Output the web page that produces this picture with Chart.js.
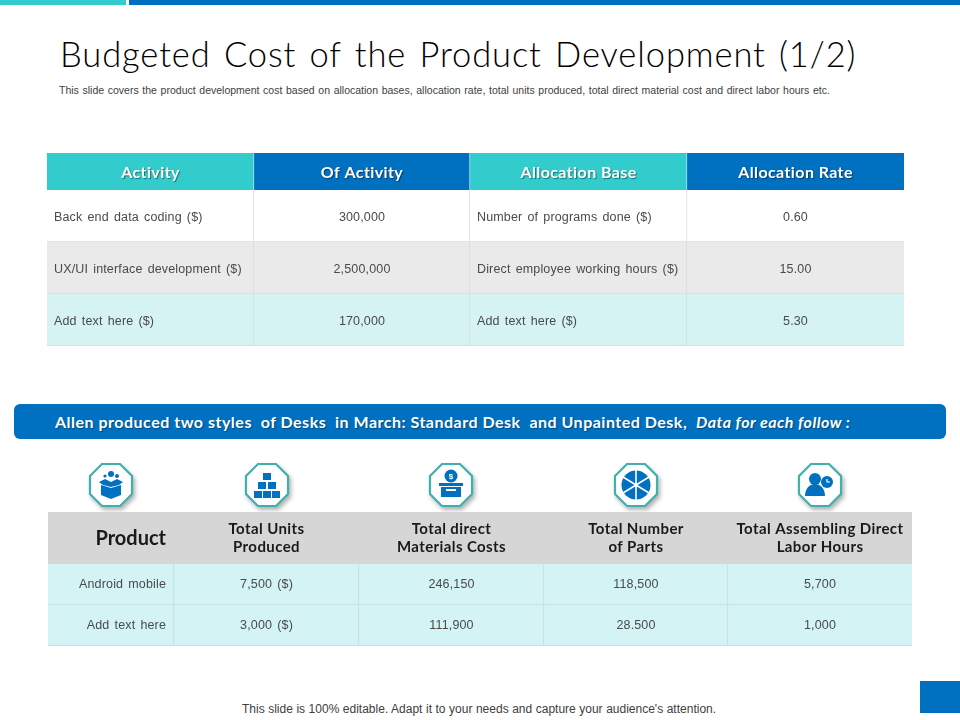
<!DOCTYPE html>
<html>
<head>
<meta charset="utf-8">
<title>Budgeted Cost of the Product Development (1/2)</title>
<script src="https://cdn.jsdelivr.net/npm/chart.js@4"></script>
<style>
  html, body { margin: 0; padding: 0; background: #fff; }
  #slide { position: relative; width: 960px; height: 720px; overflow: hidden; }
  #slide > * { position: absolute; }
  canvas { display: block; }
  .strip { top: 0; height: 5px; }
  #title { left: 60px; top: 33px; font: 300 34.5px Lato, sans-serif; letter-spacing: 0.9px; word-spacing: 3px; color: #000; white-space: pre; }
  #subtitle { left: 59px; top: 84px; font: 10.5px "Liberation Sans", sans-serif; color: #404040; white-space: pre; word-spacing: 0.75px; }
  #banner { left: 14px; top: 404px; width: 932px; height: 35px; border-radius: 6px; background: #0070c0; }
  #bannerText { left: 55px; top: 412px; font: 700 16px Lato, sans-serif; letter-spacing: 0.5px; color: #fff; white-space: pre; text-shadow: 1px 1px 1px rgba(0,0,0,.35); }
  #footer { left: 242px; top: 702px; font: 12px "Liberation Sans", sans-serif; word-spacing: 0.2px; color: #404040; white-space: pre; }
  #corner { left: 920px; top: 681px; width: 40px; height: 32px; background: #0070c0; }
  .icon { top: 462px; width: 46px; height: 46px; filter: drop-shadow(2px 3px 2px rgba(0,0,0,.3)); }
  .icon .oct { fill: #fff; stroke: #3fb0ac; stroke-width: 2.2; }
  .icon .g { fill: #0070c0; }
</style>
</head>
<body>
<div id="slide">
  <div class="strip" style="left:0;width:126px;background:#33cccc"></div>
  <div class="strip" style="left:129px;width:831px;background:#0070c0"></div>
  <div id="title">Budgeted Cost of the Product Development (1/2)</div>
  <div id="subtitle">This slide covers the product development cost based on allocation bases, allocation rate, total units produced, total direct material cost and direct labor hours etc.</div>

  <canvas id="activityHead" width="857" height="37" style="left:47px;top:153px"></canvas>
  <canvas id="activityBody" width="857" height="156" style="left:47px;top:190px"></canvas>

  <div id="banner"></div>
  <div id="bannerText">Allen produced two styles  of Desks  in March: Standard Desk  and Unpainted Desk,  <i>Data for each follow :</i></div>

  <svg class="icon" style="left:88px" viewBox="0 0 46 46">
    <polygon class="oct" points="14,2 32,2 44,14 44,32 32,44 14,44 2,32 2,14"/>
    <path class="g" d="M13 23l10 3 10-3v10l-10 4-10-4z"/><path class="g" d="M11 20l6-3 6 3 6-3 6 3-4 3-8 2-8-2z"/>
    <circle class="g" cx="23" cy="12" r="3"/><circle class="g" cx="17" cy="14" r="1.6"/><circle class="g" cx="29" cy="14" r="2"/>
  </svg>
  <svg class="icon" style="left:244px" viewBox="0 0 46 46">
    <polygon class="oct" points="14,2 32,2 44,14 44,32 32,44 14,44 2,32 2,14"/>
    <rect class="g" x="19" y="11" width="8" height="7"/><rect class="g" x="14" y="20" width="8" height="7"/><rect class="g" x="24" y="20" width="8" height="7"/>
    <rect class="g" x="10" y="29" width="8" height="7"/><rect class="g" x="19" y="29" width="8" height="7"/><rect class="g" x="28" y="29" width="8" height="7"/>
  </svg>
  <svg class="icon" style="left:428px" viewBox="0 0 46 46">
    <polygon class="oct" points="14,2 32,2 44,14 44,32 32,44 14,44 2,32 2,14"/>
    <path class="g" d="M11 21h24v3h-24zM13 25h20v10h-20z"/><circle class="g" cx="23" cy="14" r="6.5"/>
    <rect x="18" y="27" width="10" height="2" fill="#fff"/>
    <text x="23" y="17" font-size="8" font-family="Liberation Sans" font-weight="700" text-anchor="middle" fill="#fff">$</text>
  </svg>
  <svg class="icon" style="left:613px" viewBox="0 0 46 46">
    <polygon class="oct" points="14,2 32,2 44,14 44,32 32,44 14,44 2,32 2,14"/>
    <circle class="g" cx="23" cy="23" r="14.5"/>
    <path d="M23 8v30M10 15l26 16M36 15l-26 16" stroke="#fff" stroke-width="1.6"/>
  </svg>
  <svg class="icon" style="left:797px" viewBox="0 0 46 46">
    <polygon class="oct" points="14,2 32,2 44,14 44,32 32,44 14,44 2,32 2,14"/>
    <circle class="g" cx="18" cy="17" r="6"/><path class="g" d="M8 34c0-16 20-16 20 0z"/>
    <circle class="g" cx="30" cy="20" r="6"/><path d="M30 17v3h3" stroke="#fff" stroke-width="1.2" fill="none"/>
  </svg>

  <canvas id="productHead" width="864" height="52" style="left:48px;top:512px"></canvas>
  <canvas id="productBody" width="864" height="82" style="left:48px;top:564px"></canvas>

  <div id="footer">This slide is 100% editable. Adapt it to your needs and capture your audience's attention.</div>
  <div id="corner"></div>
</div>

<script>
// first table
const activityHeaders = ['Activity', 'Of Activity', 'Allocation Base', 'Allocation Rate'];
const activityNames = ['Back end data coding ($)', 'UX/UI interface development ($)', 'Add text here ($)'];
const activityCosts = ['300,000', '2,500,000', '170,000'];
const allocationBases = ['Number of programs done ($)', 'Direct employee working hours ($)', 'Add text here ($)'];
const allocationRates = ['0.60', '15.00', '5.30'];

// second table
const productHeaders = ['Product', 'Total Units\nProduced', 'Total direct\nMaterials Costs', 'Total Number\nof Parts', 'Total Assembling Direct\nLabor Hours'];
const productNames = ['Android mobile', 'Add text here'];
const unitsProduced = ['7,500 ($)', '3,000 ($)'];
const materialCosts = ['246,150', '111,900'];
const partCounts = ['118,500', '28.500'];
const laborHours = ['5,700', '1,000'];

// column widths on the x scale of each table
const activityColWidths = [207, 216, 217, 217];
const productColWidths = [126, 185, 185, 184, 184];

// draws the cell text at the position of each bar
const cellTextPlugin = {
    id: 'cellText',
    afterDatasetsDraw(chart, args, opts) {
        const ctx = chart.ctx;
        ctx.save();
        ctx.textBaseline = 'middle';
        chart.data.datasets.forEach((ds, col) => {
            chart.getDatasetMeta(col).data.forEach((bar, row) => {
                const style = opts.style(col);
                const lines = String(ds.cellText[row]).split('\n');
                const align = opts.align[col];
                let x = (bar.base + bar.x) / 2;
                if (align === 'left') x = bar.base + opts.pad;
                if (align === 'right') x = bar.x - opts.pad;
                ctx.font = style.font;
                ctx.fillStyle = style.color;
                ctx.textAlign = align;
                ctx.letterSpacing = style.spacing || '0px';
                ctx.wordSpacing = style.wordSpacing || '0px';
                ctx.shadowColor = style.shadow || 'transparent';
                ctx.shadowOffsetX = style.shadow ? 1 : 0;
                ctx.shadowOffsetY = style.shadow ? 1 : 0;
                ctx.shadowBlur = style.shadow ? 1 : 0;
                lines.forEach((line, i) => {
                    const y = bar.y + (i - (lines.length - 1) / 2) * 18 + (opts.yShift || 0);
                    ctx.fillText(line, x, y);
                });
            });
        });
        ctx.restore();
    }
};

// a table is a stacked horizontal bar chart: one dataset per column, one bar per cell
function createTable(id, rowLabels, columns, widths, fill, border, text) {
    const ctx = document.getElementById(id).getContext('2d');
    const total = widths.reduce((a, b) => a + b, 0);
    return new Chart(ctx, {
        type: 'bar',
        data: {
            labels: rowLabels,
            datasets: columns.map((cells, col) => ({
                data: rowLabels.map(() => widths[col]),
                cellText: cells,
                backgroundColor: rowLabels.map((_, row) => fill(col, row)),
                borderColor: border,
                borderWidth: { top: 0, left: 0, right: col < columns.length - 1 ? 1 : 0, bottom: text.bottomLine ? 1 : 0 },
                borderSkipped: false,
                barPercentage: 1,
                categoryPercentage: 1
            }))
        },
        options: {
            indexAxis: 'y',
            responsive: false,
            animation: false,
            layout: { padding: 0 },
            scales: {
                x: { stacked: true, display: false, min: 0, max: total },
                y: { stacked: true, display: false }
            },
            plugins: {
                legend: { display: false },
                tooltip: { enabled: false },
                cellText: text
            }
        },
        plugins: [cellTextPlugin]
    });
}

const bodyStyle = () => ({ font: '12.5px "Liberation Sans"', color: '#4a4a4a', spacing: '0.15px', wordSpacing: '1.5px' });

createTable('activityHead', ['head'], activityHeaders.map(h => [h]), activityColWidths,
    col => (col % 2 === 0 ? '#33cccc' : '#0070c0'), '#b9e3ea',
    {
        align: ['center', 'center', 'center', 'center'], pad: 7, yShift: 1,
        style: () => ({ font: '700 16px Lato', color: '#fff', spacing: '0.4px', shadow: 'rgba(0,0,0,.45)' })
    });

createTable('activityBody', ['row1', 'row2', 'row3'],
    [activityNames, activityCosts, allocationBases, allocationRates], activityColWidths,
    (col, row) => ['#ffffff', '#eaeaea', '#d5f3f3'][row], '#d9dcdc',
    { align: ['left', 'center', 'left', 'center'], pad: 7, yShift: 1.5, bottomLine: true, style: bodyStyle });

createTable('productHead', ['head'], productHeaders.map(h => [h]), productColWidths,
    () => '#d6d6d6', '#d6d6d6',
    {
        align: ['right', 'center', 'center', 'center', 'center'], pad: 8, yShift: 0.5,
        style: col => (col === 0
            ? { font: '700 20px Lato', color: '#1a1a1a' }
            : { font: '700 15px Lato', color: '#1a1a1a', spacing: '0.4px' })
    });

createTable('productBody', ['row1', 'row2'],
    [productNames, unitsProduced, materialCosts, partCounts, laborHours], productColWidths,
    () => '#d3f3f4', '#c4dcdc',
    { align: ['right', 'center', 'center', 'center', 'center'], pad: 8, bottomLine: true, style: bodyStyle });
</script>
</body>
</html>
